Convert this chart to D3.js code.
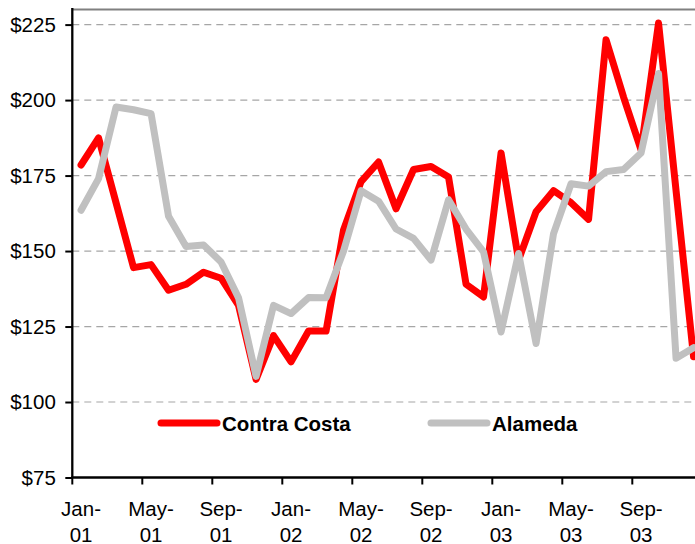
<!DOCTYPE html>
<html>
<head>
<meta charset="utf-8">
<script src="https://cdn.jsdelivr.net/npm/d3@7"></script>
<style>
  html, body { margin: 0; padding: 0; background: #fff; }
  svg { display: block; font-family: Arial, "Liberation Sans", sans-serif; }
</style>
</head>
<body>
<svg id="chart" width="695" height="544"></svg>
<script>
// Monthly values, Jan-01 through Dec-03
const months = [
  "Jan-01","Feb-01","Mar-01","Apr-01","May-01","Jun-01","Jul-01","Aug-01","Sep-01","Oct-01","Nov-01","Dec-01",
  "Jan-02","Feb-02","Mar-02","Apr-02","May-02","Jun-02","Jul-02","Aug-02","Sep-02","Oct-02","Nov-02","Dec-02",
  "Jan-03","Feb-03","Mar-03","Apr-03","May-03","Jun-03","Jul-03","Aug-03","Sep-03","Oct-03","Nov-03","Dec-03"
];
const contraCosta = [
  178.5, 187.5, 166, 144.5, 145.5, 137, 139, 143, 141, 132, 107.5, 122,
  113.3, 123.5, 123.5, 157, 173, 179.5, 164, 177, 178, 174.5, 139, 134.8,
  182.5, 147, 163, 170, 166, 160.5, 220, 201, 183.5, 225.5, 170, 115
];
const alameda = [
  163.5, 174, 197.7, 196.8, 195.5, 161.5, 151.5, 152, 146.4, 134.5, 108.5, 132,
  129.3, 134.6, 134.5, 150, 170, 166.5, 157.3, 154.2, 147, 167, 157.3, 149.7,
  123.2, 149.2, 119.4, 155.8, 172.3, 171.5, 176.3, 177, 182.5, 208.8, 114.5, 118
];
const yTicks = [75, 100, 125, 150, 175, 200, 225];
const gridValues = [100, 125, 150, 175, 200, 225];
const labelledMonths = ["Jan-01","May-01","Sep-01","Jan-02","May-02","Sep-02","Jan-03","May-03","Sep-03"];

const series = [
  { name: "Contra Costa", values: contraCosta, color: "#FF0000" },
  { name: "Alameda", values: alameda, color: "#C0C0C0" }
];

const svg = d3.select("#chart");
const plot = { left: 72.3, top: 9.5, bottom: 477.5, right: 702.3 };
const fontSize = 20.5;

const x = d3.scaleBand().domain(months).range([plot.left, plot.right]).paddingInner(0).paddingOuter(0);
const y = d3.scaleLinear().domain([75, 230]).range([plot.bottom, plot.top]);
const cx = m => x(m) + x.bandwidth() / 2;

// dashed horizontal gridlines
svg.append("g").selectAll("line").data(gridValues).join("line")
  .attr("x1", plot.left).attr("x2", plot.right)
  .attr("y1", d => y(d)).attr("y2", d => y(d))
  .attr("stroke", "#a6a6a6").attr("stroke-width", 1.2)
  .attr("stroke-dasharray", "7,5");

// plot area frame (top edge)
svg.append("line")
  .attr("x1", plot.left).attr("x2", plot.right).attr("y1", plot.top).attr("y2", plot.top)
  .attr("stroke", "#808080").attr("stroke-width", 2.2);

// series lines
const line = d3.line()
  .x((d, i) => cx(months[i]))
  .y(d => y(d));

svg.append("g").selectAll("path").data(series).join("path")
  .attr("d", d => line(d.values))
  .attr("fill", "none")
  .attr("stroke", d => d.color)
  .attr("stroke-width", 7)
  .attr("stroke-linejoin", "round")
  .attr("stroke-linecap", "round");

// y axis
const yAxis = d3.axisLeft(y).tickValues(yTicks).tickSize(7).tickPadding(9.5)
  .tickFormat(d => "$" + d);
const gy = svg.append("g").attr("transform", `translate(${plot.left},0)`).call(yAxis);
gy.select(".domain").attr("d", `M0,${plot.top - 1.5}V${plot.bottom}`).attr("stroke", "#000").attr("stroke-width", 2.3);
gy.selectAll(".tick line").attr("stroke", "#000").attr("stroke-width", 2);
gy.selectAll(".tick text").attr("font-size", fontSize).attr("fill", "#000")
  .attr("font-family", "Arial, 'Liberation Sans', sans-serif");

// x axis: ticks on month boundaries every four months, labels under the month centre
const tickMonths = months.filter((m, i) => i % 4 === 0);
const gx = svg.append("g");
gx.append("line")
  .attr("x1", plot.left - 1).attr("x2", plot.right).attr("y1", plot.bottom).attr("y2", plot.bottom)
  .attr("stroke", "#000").attr("stroke-width", 2.3);
gx.selectAll("line.tick").data(tickMonths).join("line").attr("class", "tick")
  .attr("x1", d => x(d)).attr("x2", d => x(d))
  .attr("y1", plot.bottom).attr("y2", plot.bottom + 7)
  .attr("stroke", "#000").attr("stroke-width", 2);
const lbl = gx.selectAll("text").data(labelledMonths).join("text")
  .attr("text-anchor", "middle")
  .attr("font-size", fontSize).attr("fill", "#000");
lbl.append("tspan").attr("x", d => cx(d)).attr("y", 516).text(d => d.split("-")[0] + "-");
lbl.append("tspan").attr("x", d => cx(d)).attr("y", 542).text(d => d.split("-")[1]);

// legend
const legendPos = [{ x1: 161, x2: 217, tx: 222 }, { x1: 431, x2: 487, tx: 492 }];
const lg = svg.append("g").selectAll("g").data(series).join("g");
lg.append("line")
  .attr("x1", (d, i) => legendPos[i].x1).attr("x2", (d, i) => legendPos[i].x2)
  .attr("y1", 423).attr("y2", 423)
  .attr("stroke", d => d.color).attr("stroke-width", 7).attr("stroke-linecap", "round");
lg.append("text")
  .attr("x", (d, i) => legendPos[i].tx).attr("y", 431)
  .attr("font-size", fontSize).attr("font-weight", "bold").attr("fill", "#000")
  .text(d => d.name);
</script>
</body>
</html>
